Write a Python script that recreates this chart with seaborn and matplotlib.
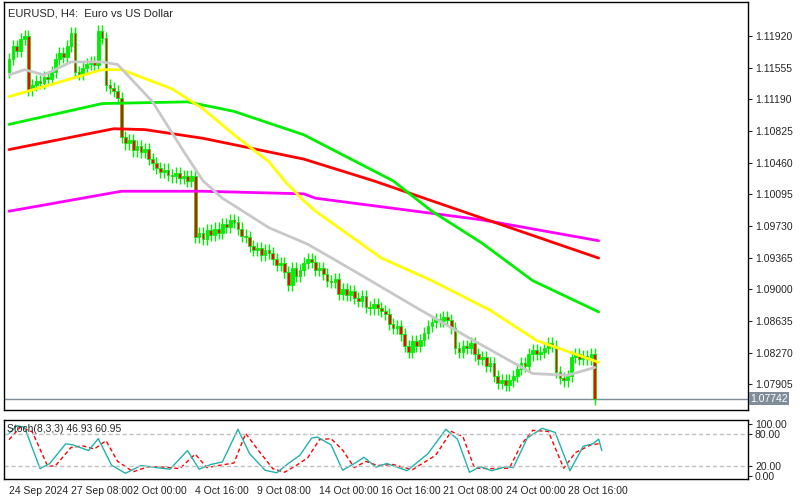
import numpy as np
import pandas as pd
import matplotlib
matplotlib.use("Agg")
import matplotlib.pyplot as plt
import seaborn as sns

sns.set_style("white")
plt.rcParams['font.family'] = ['Liberation Sans', 'DejaVu Sans']

closes = [1.1165,1.1180,1.1175,1.1188,1.1192,1.1130,
          1.1135,1.1140,1.1138,1.1145,1.1142,
          1.1150,1.1165,1.1172,1.1168,1.1180,
          1.1195,1.1150,1.1148,1.1155,1.1160,1.1162,1.1158,
          1.1198,1.1190,1.1135,1.1132,1.1128,1.1120,
          1.1075,1.1068,1.1072,1.1060,1.1065,1.1058,1.1062,1.1050,
          1.1045,1.1040,1.1035,1.1038,1.1032,1.1030,1.1034,1.1028,1.1030,1.1025,1.1030,
          1.0960,
          1.0965,1.0958,1.0968,1.0963,1.0970,1.0965,1.0975,1.0972,1.0980,1.0978,1.0970,1.0962,
          1.0960,1.0950,1.0945,1.0948,1.0940,1.0945,1.0942,1.0935,
          1.0928,1.0930,1.0920,1.0905,1.0925,1.0915,1.0922,1.0930,
          1.0935,1.0932,1.0922,1.0925,1.0918,
          1.0910,1.0908,1.0912,1.0895,1.0900,1.0893,1.0898,
          1.0890,1.0887,1.0892,1.0880,1.0878,1.0883,1.0878,1.0875,
          1.0872,1.0860,1.0855,1.0858,
          1.0848,1.0835,1.0828,1.0840,1.0835,1.0842,
          1.0850,1.0858,1.0862,1.0866,1.0864,1.0868,1.0865,
          1.0855,1.0832,1.0828,1.0835,
          1.0832,1.0838,1.0825,1.0820,1.0822,1.0812,1.0815,1.0800,1.0792,1.0795,
          1.0790,1.0795,1.0800,1.0808,1.0815,1.0812,1.0825,
          1.0830,1.0826,1.0828,1.0832,1.0838,1.0835,
          1.0805,1.0798,1.0795,
          1.0800,1.0822,1.0825,1.0820,1.0823,1.0820,
          1.0825,1.07742]
first_open = 1.1150
wick = 0.0007

gray_idx = [0,4,9,16,24,28,37,45,50,55,67,77,89,105,119,135,144,151]
gray_val = [1.1147,1.1153,1.1147,1.1162,1.1162,1.1159,1.1116,1.1059,1.1025,1.1005,1.0971,1.0952,1.0921,1.0879,1.0843,1.0803,1.0801,1.0810]
yel_idx = [0,24,29,42,50,58,67,71,76,79,96,109,124,136,152]
yel_val = [1.1122,1.1153,1.1153,1.1131,1.1108,1.1078,1.1047,1.1025,1.1002,1.0990,1.0936,1.0910,1.0876,1.0841,1.0816]
grn_idx = [0,24,46,58,76,99,109,122,135,152]
grn_val = [1.1090,1.1114,1.1116,1.1105,1.1078,1.1025,1.0990,1.0953,1.0910,1.0874]
red_idx = [0,27,35,50,76,94,122,152]
red_val = [1.1061,1.1085,1.1084,1.1074,1.1050,1.1025,1.0982,1.0936]
mag_idx = [0,29,50,76,79,122,152]
mag_val = [1.0990,1.1013,1.1013,1.1010,1.1005,1.0980,1.0956]

k_idx = [0,2,4,8,10.5,14.6,16.4,20.5,23,26.4,30,34,38,41.5,46,49,52,55,59,62,66,69,72,75,78,79.5,83,86,89.5,91.5,94.6,97.4,102.6,108,112.6,115.6,118.7,121.5,124.4,128.2,130,133.6,137.4,140.8,144.6,148,150.5,152,152.8]
k_val = [82,97,94,14,24,62,60,49,72,21,5,20,16,13,49,13,22,27,90,43,11,6,24,40,73,75,60,11,26,36,17,24,10,43,90,71,7,18,10,18,16,73,92,84,10,57,62,71,49]
d_idx = [0,3,6,10,12,16,19,22,25,28,32,36,40,44,48,51,54,58,61,64,68,71,74,77,80,83,86,89,92,95,99,104,110,114,117,120,124,129,132,135,139,143,146,150,152]
d_val = [70,95,85,18,20,55,58,52,68,28,8,18,17,14,42,16,20,25,82,52,14,7,20,35,70,72,50,16,28,20,22,12,40,86,76,15,14,15,60,88,86,15,45,60,62]

stoch_labels = ["100.00", "80.00", "20.00", "0.00"]
price_ticks = [1.11920,1.11555,1.11190,1.10825,1.10460,1.10095,1.09730,1.09365,1.09000,1.08635,1.08270,1.07905]
date_idx = [0,16,32,48,64,80,96,112,128,144]
date_labels = ["24 Sep 2024","27 Sep 08:00","2 Oct 00:00","4 Oct 16:00","9 Oct 08:00",
               "14 Oct 00:00","16 Oct 16:00","21 Oct 08:00","24 Oct 00:00","28 Oct 16:00"]
last_price = 1.07742

fig = plt.figure(figsize=(8, 5), dpi=100)
ax = fig.add_axes([0.005, 0.18, 0.93, 0.816])
ax2 = fig.add_axes([0.005, 0.042, 0.93, 0.118])

opens = [first_open] + closes[:-1]
for i, (o, c) in enumerate(zip(opens, closes)):
    hi, lo = max(o, c) + wick, min(o, c) - wick
    ax.vlines(i, lo, hi, color="#00ee00", lw=1, zorder=2)
    if c >= o:
        ax.bar(i, max(c - o, 0.00005), bottom=o, width=0.7, color="#00ee00", edgecolor="#00ee00", lw=0.6, zorder=3)
    else:
        ax.bar(i, o - c, bottom=c, width=0.7, color="#ff0000", edgecolor="#00ee00", lw=0.6, zorder=3)

for idx, val, col in [(mag_idx, mag_val, "#ff00ff"), (red_idx, red_val, "#ff0000"),
                      (grn_idx, grn_val, "#00ee00"), (yel_idx, yel_val, "#ffff00"),
                      (gray_idx, gray_val, "#c8c8c8")]:
    sns.lineplot(x=idx, y=val, ax=ax, color=col, lw=2, zorder=4)

ax.axhline(last_price, color="#7f8c99", lw=1, zorder=1)
ax.set_xlim(-1.3, 190.5)
ax.set_ylim(1.0761, 1.1231)
ax.yaxis.tick_right()
ax.set_yticks(price_ticks)
ax.set_yticklabels([f"{p:.5f}" for p in price_ticks], fontsize=7.5)
ax.tick_params(axis="y", direction="out", length=3, pad=2)
ax.set_xticks([])
ax.text(0.006, 0.985, "EURUSD, H4:  Euro vs US Dollar", transform=ax.transAxes, fontsize=8, va="top")
ax.text(1.003, last_price, f"{last_price:.5f}", transform=ax.get_yaxis_transform(), fontsize=7.5,
        va="center", ha="left", color="white", bbox=dict(boxstyle="square,pad=0.15", fc="#7f8c99", ec="none"))

sns.lineplot(x=d_idx, y=d_val, ax=ax2, color="#ff0000", lw=1, linestyle=(0, (3, 2)))
sns.lineplot(x=k_idx, y=k_val, ax=ax2, color="#20b2aa", lw=1)
ax2.axhline(80, color="#c0c0c0", lw=1, ls=(0, (3, 2)))
ax2.axhline(20, color="#c0c0c0", lw=1, ls=(0, (3, 2)))
ax2.set_xlim(-1.3, 190.5)
ax2.set_ylim(-6, 108)
ax2.yaxis.tick_right()
ax2.set_yticks([100, 80, 20, 0])
ax2.set_yticklabels(stoch_labels, fontsize=7.5)
ax2.tick_params(axis="y", direction="out", length=3, pad=2)
ax2.set_xticks(date_idx)
ax2.set_xticklabels(date_labels, fontsize=7.5, ha="left")
ax2.tick_params(axis="x", direction="out", length=3, pad=2)
ax2.text(0.004, 0.93, "Stoch(8,3,3) 46.93 60.95", transform=ax2.transAxes, fontsize=7.5, va="top")
for a in (ax, ax2):
    for s in a.spines.values():
        s.set_color("black"); s.set_linewidth(1)

fig.savefig("out.png", dpi=100)
